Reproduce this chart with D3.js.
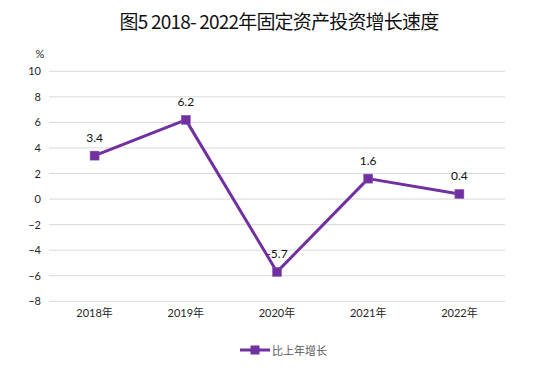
<!DOCTYPE html>
<html><head><meta charset="utf-8">
<script src="https://cdn.jsdelivr.net/npm/d3@7"></script>
<style>body{margin:0;background:#fff}svg{display:block}</style>
</head><body>
<svg id="c" width="558" height="381"></svg>
<script>
const categories = ["2018年","2019年","2020年","2021年","2022年"];
const growth = [3.4, 6.2, -5.7, 1.6, 0.4];
const yTicks = [-8,-6,-4,-2,0,2,4,6,8,10];
const seriesName = "比上年增长";
const titleText = "图5 2018- 2022年固定资产投资增长速度";

const svg = d3.select("#c");
const color = "#7030A0";
const L = 49, R = 505, T = 71.3, B = 301.3;
const x = d3.scaleBand().domain(categories).range([L, R]);
const y = d3.scaleLinear().domain([-8, 10]).range([B, T]);
const font = "Lato, 'Noto Sans CJK SC', sans-serif";

svg.append("text").attr("x", 279).attr("y", 29).attr("text-anchor", "middle")
  .attr("font-family", "'Noto Sans CJK SC', sans-serif").attr("font-size", 19)
  .attr("letter-spacing", -0.8).attr("fill", "#111").text(titleText);

// grid
svg.append("g").selectAll("line").data(yTicks).join("line")
  .attr("x1", L).attr("x2", R).attr("y1", d => y(d)).attr("y2", d => y(d))
  .attr("stroke", "#d9d9d9").attr("stroke-width", 1);

// y axis labels
const yAxis = d3.axisLeft(y).tickValues(yTicks).tickSize(0).tickPadding(8);
const ga = svg.append("g").attr("transform", `translate(${L},0)`).call(yAxis);
ga.select(".domain").remove();
ga.selectAll("text").attr("font-family", font).attr("font-size", 11).attr("fill", "#262626");

svg.append("text").attr("x", 40).attr("y", 58).attr("text-anchor", "middle")
  .attr("font-family", font).attr("font-size", 11).attr("fill", "#262626").text("%");

// x axis labels
const xAxis = d3.axisBottom(x).tickSize(0).tickPadding(8);
const gx = svg.append("g").attr("transform", `translate(0,${B})`).call(xAxis);
gx.select(".domain").remove();
gx.selectAll("text").attr("font-family", font).attr("font-size", 11).attr("fill", "#262626");

const cx = d => x(d) + x.bandwidth() / 2;

// data labels (under the line)
svg.append("g").selectAll("text").data(categories).join("text")
  .attr("x", d => cx(d)).attr("y", (d, i) => y(growth[i]) - 14)
  .attr("text-anchor", "middle").attr("font-family", font).attr("font-size", 12)
  .attr("fill", "#111").text((d, i) => growth[i]);

const line = d3.line().x(d => cx(d)).y((d, i) => y(growth[i]));
svg.append("path").datum(categories).attr("d", line)
  .attr("fill", "none").attr("stroke", color).attr("stroke-width", 3).attr("stroke-linejoin", "round");

svg.append("g").selectAll("rect").data(categories).join("rect")
  .attr("x", d => cx(d) - 4.5).attr("y", (d, i) => y(growth[i]) - 4.5)
  .attr("width", 9).attr("height", 9).attr("fill", color).attr("stroke", "#8a55b5").attr("stroke-width", 0.5);

// legend
const lg = svg.append("g");
lg.append("line").attr("x1", 240).attr("x2", 270).attr("y1", 350).attr("y2", 350)
  .attr("stroke", color).attr("stroke-width", 3);
lg.append("rect").attr("x", 250.5).attr("y", 345.5).attr("width", 9).attr("height", 9).attr("fill", color);
lg.append("text").attr("x", 272).attr("y", 354.5).attr("font-family", font).attr("font-size", 11)
  .attr("fill", "#595959").text(seriesName);
</script>
</body></html>
